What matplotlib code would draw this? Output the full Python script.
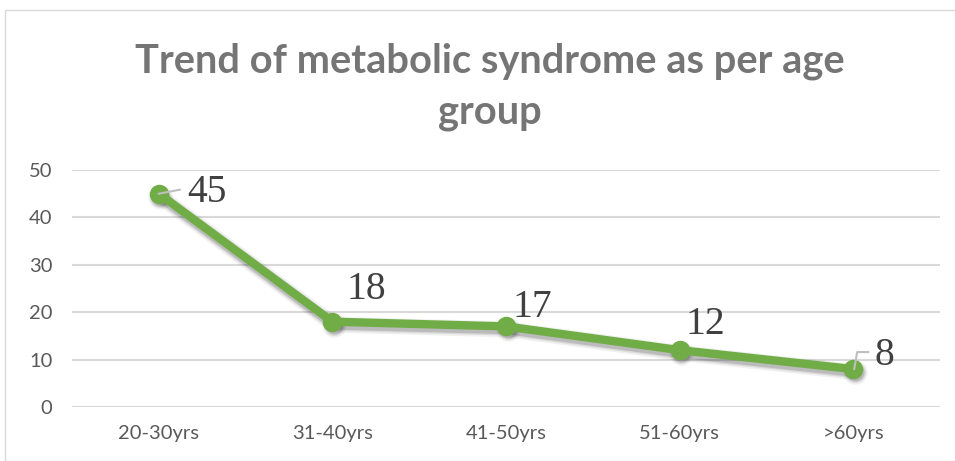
import matplotlib
matplotlib.use("Agg")
import matplotlib.pyplot as plt
from matplotlib.patches import Rectangle
from matplotlib.transforms import offset_copy

categories = ["20-30yrs", "31-40yrs", "41-50yrs", "51-60yrs", ">60yrs"]
values = [45, 18, 17, 12, 8]
yticks = [0, 10, 20, 30, 40, 50]
title = "Trend of metabolic syndrome as per age\ngroup"

W, H = 955, 461
fig = plt.figure(figsize=(W / 100, H / 100), dpi=100)
fig.patch.set_facecolor("white")
fig.patches.append(Rectangle((5 / W, 0), 1.2, 1 - 10 / H, transform=fig.transFigure,
                             fill=False, edgecolor="#d9d9d9", linewidth=1.0))

ax = fig.add_axes([72 / W, 1 - 407 / H, (940 - 72) / W, (407 - 170) / H])
x = list(range(len(categories)))
ax.set_xlim(-0.5, len(categories) - 0.5)
ax.set_ylim(0, 50)
ax.set_yticks(yticks)
ax.set_xticks(x)
ax.set_xticklabels(categories)
for s in ax.spines.values():
    s.set_visible(False)
ax.grid(axis="y", color="#d9d9d9", linewidth=1.5)
ax.set_axisbelow(True)
ax.tick_params(axis="both", length=0, labelsize=14.5, labelcolor="#595959")
ax.tick_params(axis="y", pad=14)
ax.tick_params(axis="x", pad=13)
for lab in ax.get_xticklabels() + ax.get_yticklabels():
    lab.set_family("Lato")

# soft shadow
sh = offset_copy(ax.transData, fig=fig, x=1.5, y=-3, units="dots")
for lw, a in [(11.5, 0.06), (9, 0.09), (7, 0.14)]:
    ax.plot(x, values, color="black", alpha=a, linewidth=lw, transform=sh,
            solid_capstyle="round", solid_joinstyle="round", zorder=2)
    ax.plot(x, values, linestyle="none", marker="o", markersize=lw + 6, color="black",
            alpha=a, transform=sh, zorder=2, markeredgewidth=0)

ax.plot(x, values, color="#70ad47", linewidth=6, marker="o", markersize=13,
        markerfacecolor="#70ad47", markeredgecolor="#70ad47", zorder=3,
        solid_capstyle="round", solid_joinstyle="round")

# data labels (offsets in pixels)
offsets = [(48, 1), (34, 32), (26, 19), (26, 26), (31, 14)]
for xi, v, (dx, dy) in zip(x, values, offsets):
    ax.annotate(str(v), (xi, v), xytext=(dx * 0.72, dy * 0.72), textcoords="offset points",
                fontsize=28.5, family="Liberation Serif", color="#404040",
                ha="center", va="center", zorder=5)

# leader lines (pixel offsets from the data point)
def leader(xi, v, pts):
    p = ax.transData.transform((xi, v))
    fig.add_artist(plt.Line2D([(p[0] + dx) / W for dx, dy in pts],
                              [(p[1] + dy) / H for dx, dy in pts],
                              color="#bfbfbf", lw=1.5, zorder=4))

leader(0, values[0], [(0, 0), (21, 4)])
leader(4, values[4], [(1, 0), (4, 17), (15, 17)])

fig.text(490 / W, 1 - 87 / H, title, ha="center", va="center", fontsize=28.7,
         fontweight="bold", family="Lato", color="#757575", linespacing=1.45)

fig.savefig("out.png", dpi=100)
